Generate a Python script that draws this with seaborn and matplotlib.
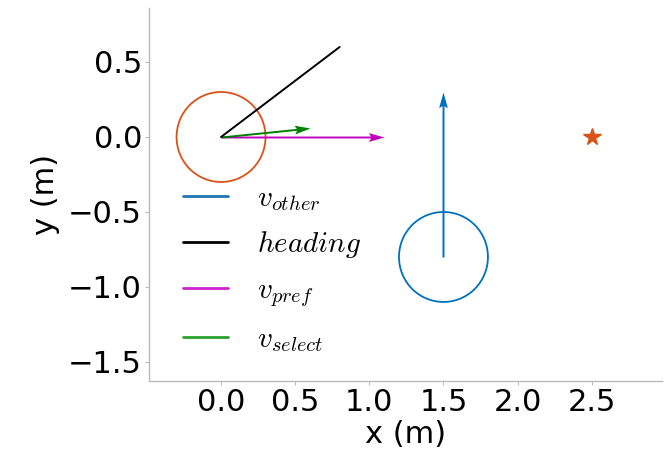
import matplotlib
matplotlib.use("Agg")
import matplotlib.pyplot as plt
from matplotlib.patches import Circle
from matplotlib.lines import Line2D
import numpy as np
import pandas as pd
import seaborn as sns

# ---- data ----
agent_pos = [0.0, 0.0]
other_pos = [1.5, -0.8]
goal_pos = [2.5, 0.0]
radius = 0.3
heading_end = [0.8, 0.6]
v_pref = [1.1, 0.0]
v_select = [0.6, 0.06]
v_other = [0.0, 1.1]
legend_labels = [r"$v_{other}$", r"$heading$", r"$v_{pref}$", r"$v_{select}$"]
x_ticks = [0.0, 0.5, 1.0, 1.5, 2.0, 2.5]
y_ticks = [0.5, 0.0, -0.5, -1.0, -1.5]

sns.set_style("ticks")
plt.rcParams["mathtext.fontset"] = "cm"
plt.rcParams["font.family"] = ["DejaVu Sans"]

fig = plt.figure(figsize=(6.69, 4.59), dpi=100)
ax = fig.add_axes([149/669, 1-381/459, (662-149)/669, (381-8)/459])

BLUE = "#0072BD"
ORANGE = "#D95319"

ax.add_patch(Circle(agent_pos, radius, fill=False, ec=ORANGE, lw=1.3))
ax.add_patch(Circle(other_pos, radius, fill=False, ec=BLUE, lw=1.3))

hd = pd.DataFrame({"x": [agent_pos[0], heading_end[0]], "y": [agent_pos[1], heading_end[1]]})
sns.lineplot(data=hd, x="x", y="y", sort=False, color="black", lw=1.4, ax=ax)

qkw = dict(angles="xy", scale_units="xy", scale=1, width=0.0038,
           headwidth=4.5, headlength=8, headaxislength=7)
ax.quiver([agent_pos[0]], [agent_pos[1]], [v_pref[0]], [v_pref[1]], color="m", **qkw)
ax.quiver([agent_pos[0]], [agent_pos[1]], [v_select[0]], [v_select[1]], color="green", **qkw)
ax.quiver([other_pos[0]], [other_pos[1]], [v_other[0]], [v_other[1]], color=BLUE, **qkw)

ax.plot([goal_pos[0]], [goal_pos[1]], marker="*", ms=13, color=ORANGE, mec=ORANGE, ls="none")

ax.set_xlim(-0.486, 2.974)
ax.set_ylim(-1.627, 0.86)
ax.set_xticks(x_ticks)
ax.set_yticks(y_ticks)
ax.tick_params(labelsize=22, length=3, width=0.8, color="#bbbbbb", pad=2, labelcolor="black")
ax.set_xlabel("x (m)", fontsize=22, labelpad=2, color="black")
ax.set_ylabel("y (m)", fontsize=22, labelpad=6, color="black")
sns.despine(ax=ax)
for s in ["left", "bottom"]:
    ax.spines[s].set_color("#bbbbbb")
    ax.spines[s].set_linewidth(1.0)

handles = [Line2D([], [], color="#1f77b4", lw=2),
           Line2D([], [], color="black", lw=2),
           Line2D([], [], color="#cc22cc", lw=2),
           Line2D([], [], color="#2ca02c", lw=2)]
fig.legend(handles, legend_labels, loc="upper left",
           bbox_to_anchor=(183/669, 1-184/459), frameon=False, fontsize=21,
           handlelength=1.55, handletextpad=1.0, labelspacing=0.55, borderpad=0,
           borderaxespad=0, labelcolor="black")

fig.savefig("out.png", dpi=100)
